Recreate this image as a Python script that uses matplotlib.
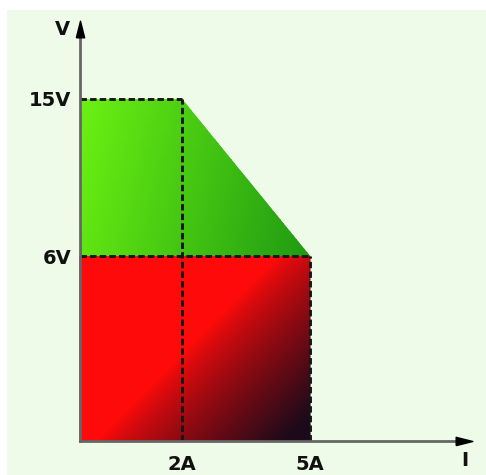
import numpy as np
import matplotlib
matplotlib.use("Agg")
import matplotlib.pyplot as plt
from matplotlib.patches import Polygon, Rectangle
from matplotlib.colors import to_rgb

# data (schematic V-I operating area)
current_ticks = [2, 5]
current_labels = ["2A", "5A"]
voltage_ticks = [6, 15]
voltage_labels = ["6V", "15V"]
green_I = [0, 0, 2, 5]
green_V = [6, 15, 15, 6]
red_I = [0, 5]
red_V = [0, 6]
I_end = 8.8
V_end = 19.3

# the drawing is not to scale: piecewise mapping of values onto pixels
x_pts = [-20, 0, 2, 5, 30]
x_pix = [-20 * 51, 0, 102, 230, 230 + 25 * 42.67]
y_pts = [-20, 0, 6, 15, 60]
y_pix = [-20 * 30.8, 0, 185, 342, 342 + 45 * 17.44]


def fx(v):
    return np.interp(v, x_pts, x_pix)


def ix(u):
    return np.interp(u, x_pix, x_pts)


def fy(v):
    return np.interp(v, y_pts, y_pix)


def iy(u):
    return np.interp(u, y_pix, y_pts)


W, H = 486, 475
ox, oy = 80, 441  # origin in pixels (from top)

fig = plt.figure(figsize=(W / 100, H / 100), dpi=100)
fig.patch.set_facecolor("white")
fig.patches.append(Rectangle((7 / W, 0), 1, 1 - 10 / H, transform=fig.transFigure,
                             facecolor="#effbe9", edgecolor="none", zorder=-10))

ax = fig.add_axes([0, 0, 1, 1])
ax.set_xscale("function", functions=(fx, ix))
ax.set_yscale("function", functions=(fy, iy))
ax.set_xlim(ix(-ox), ix(W - ox))
ax.set_ylim(iy(-(H - oy)), iy(oy))
ax.patch.set_alpha(0)

# red region with dark diagonal shading
gx = np.linspace(red_I[0], red_I[1], 80)
gy = np.linspace(red_V[0], red_V[1], 80)
GX, GY = np.meshgrid(gx, gy)
u = (fx(GX) - fx(red_I[0])) / (fx(red_I[1]) - fx(red_I[0]))
v = (fy(GY) - fy(red_V[0])) / (fy(red_V[1]) - fy(red_V[0]))
t = np.clip((0.95 * u + 0.75 * (1 - v) - 0.82) / 0.78, 0, 1) ** 0.8
c0 = np.array(to_rgb("#ff0a0a"))
c1 = np.array(to_rgb("#1c0a1a"))
rgb = c0[None, None, :] * (1 - t[..., None]) + c1[None, None, :] * t[..., None]
mesh = ax.pcolormesh(GX, GY, np.zeros_like(t), shading="gouraud", zorder=1)
mesh.set_array(None)
mesh.set_facecolor(rgb.reshape(-1, 3))

# green region, horizontal gradient clipped to the polygon
hx = np.linspace(0, 5, 80)
hy = np.linspace(6, 15, 40)
HX, HY = np.meshgrid(hx, hy)
uu = (fx(HX) - fx(0)) / (fx(5) - fx(0))
vv = (fy(HY) - fy(6)) / (fy(15) - fy(6))
tg = np.clip(0.9 * uu + 0.15 * (1 - vv) - 0.05, 0, 1)
g0 = np.array(to_rgb("#68ee12"))
g1 = np.array(to_rgb("#1f9a12"))
grgb = g0[None, None, :] * (1 - tg[..., None]) + g1[None, None, :] * tg[..., None]
gmesh = ax.pcolormesh(HX, HY, np.zeros_like(tg), shading="gouraud", zorder=1)
gmesh.set_array(None)
gmesh.set_facecolor(grgb.reshape(-1, 3))
poly = Polygon(list(zip(green_I, green_V)), closed=True, transform=ax.transData,
               facecolor="none", edgecolor="none")
ax.add_patch(poly)
gmesh.set_clip_path(poly)

# dashed guide lines
dash = dict(color="#161616", lw=2.1, linestyle=(0, (2.2, 1.1)), zorder=3)
ax.plot([0, current_ticks[0]], [voltage_ticks[1], voltage_ticks[1]], **dash)
ax.plot([current_ticks[0], current_ticks[0]], [0, voltage_ticks[1]], **dash)
ax.plot([0, current_ticks[1]], [voltage_ticks[0], voltage_ticks[0]], **dash)
ax.plot([current_ticks[1], current_ticks[1]], [0, voltage_ticks[0]], **dash)

# axes with arrows
for s in ["top", "right"]:
    ax.spines[s].set_visible(False)
ax.spines["left"].set_position(("data", 0))
ax.spines["bottom"].set_position(("data", 0))
ax.spines["left"].set_bounds(0, V_end - 0.3)
ax.spines["bottom"].set_bounds(0, I_end - 0.2)
for s in ["left", "bottom"]:
    ax.spines[s].set_color("#666666")
    ax.spines[s].set_linewidth(2)
    ax.spines[s].set_zorder(4)
right_head = [(-1, -0.5), (1, 0), (-1, 0.5), (-1, -0.5)]
up_head = [(-0.5, -1), (0, 1), (0.5, -1), (-0.5, -1)]
ax.plot(I_end - 0.2, 0, marker=right_head, color="black", markersize=12, zorder=5, clip_on=False)
ax.plot(0, V_end - 0.3, marker=up_head, color="black", markersize=12, zorder=5, clip_on=False)

ax.set_xticks(current_ticks, current_labels)
ax.set_yticks(voltage_ticks, voltage_labels)
ax.tick_params(length=0, labelsize=14)
ax.tick_params(axis="x", pad=10)
ax.tick_params(axis="y", pad=6)
for lab in ax.get_xticklabels() + ax.get_yticklabels():
    lab.set_fontweight("bold")
    lab.set_color("#111111")

ax.text(-0.34, V_end - 0.3, "V", fontsize=14, fontweight="bold", color="#111111",
        ha="center", va="center")
ax.text(I_end - 0.17, iy(-20), "I", fontsize=14, fontweight="bold", color="#111111",
        ha="center", va="center")

fig.savefig("out.png", dpi=100)
